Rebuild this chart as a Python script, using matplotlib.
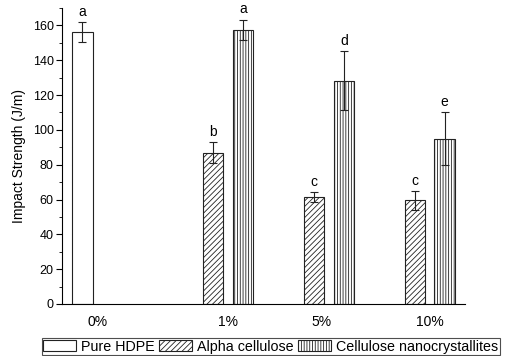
import numpy as np
import matplotlib.pyplot as plt
from matplotlib.ticker import MultipleLocator

plt.rcParams['font.family'] = ['Liberation Sans', 'DejaVu Sans']
plt.rcParams['hatch.linewidth'] = 0.6

groups = ['0%', '1%', '5%', '10%']
group_pos = [0, 1, 2, 3]
label_pos = [-0.15, 1.15, 2.08, 3.15]

series = ['Pure HDPE', 'Alpha cellulose', 'Cellulose nanocrystallites']
hdpe = [156, np.nan, np.nan, np.nan]
hdpe_err = [5.8, 0, 0, 0]
hdpe_lbl = ['a', '', '', '']
alpha = [np.nan, 86.8, 61.4, 59.5]
alpha_err = [0, 6.1, 2.7, 5.4]
alpha_lbl = ['', 'b', 'c', 'c']
cnc = [np.nan, 157.4, 128.3, 95.0]
cnc_err = [0, 5.8, 17.0, 15.2]
cnc_lbl = ['', 'a', 'd', 'e']

hatches = ['', '//////', '||||||']

fig = plt.figure(figsize=(5.06, 3.56), dpi=100)
ax = fig.add_axes([62/506, 1 - 304/356, 403/506, 296/356])

slot = 0.297
width = 0.2
x = np.array(group_pos, dtype=float)
data = [(hdpe, hdpe_err, hdpe_lbl), (alpha, alpha_err, alpha_lbl), (cnc, cnc_err, cnc_lbl)]
for k, (vals, errs, lbls) in enumerate(data):
    xs = x + (k - 1) * slot
    v = np.array(vals, dtype=float)
    ok = ~np.isnan(v)
    ax.bar(xs[ok], v[ok], width, color='white', edgecolor='#222222',
           linewidth=0.8, hatch=hatches[k], label=series[k])
    ax.errorbar(xs[ok], v[ok], yerr=np.array(errs)[ok], fmt='none',
                ecolor='#222222', elinewidth=0.8, capsize=3, capthick=0.8)
    for xi, vi, ei, li in zip(xs, v, errs, lbls):
        if li:
            ax.text(xi, vi + ei + 2, li, ha='center', va='bottom', fontsize=10)

ax.set_xlim(-0.5, 3.5)
ax.set_ylim(0, 170)
ax.yaxis.set_major_locator(MultipleLocator(20))
ax.yaxis.set_minor_locator(MultipleLocator(10))
ax.set_xticks(label_pos)
ax.set_xticklabels(groups, fontsize=10)
ax.tick_params(axis='x', length=0, pad=8)
ax.tick_params(axis='y', which='major', length=4, labelsize=9, pad=2)
ax.tick_params(axis='y', which='minor', length=2)
ax.spines['top'].set_visible(False)
ax.spines['right'].set_visible(False)
ax.set_ylabel('Impact Strength (J/m)', fontsize=10, labelpad=5)

leg = fig.legend(loc='lower left', bbox_to_anchor=(42/506, 0.002), ncol=3,
                 fontsize=10.3, frameon=True, fancybox=False, edgecolor='#222222',
                 handlelength=2.3, handleheight=0.8, handletextpad=0.35,
                 columnspacing=0.3, borderpad=0.1, borderaxespad=0)
leg.get_frame().set_linewidth(0.8)

fig.savefig('out.png', dpi=100)
